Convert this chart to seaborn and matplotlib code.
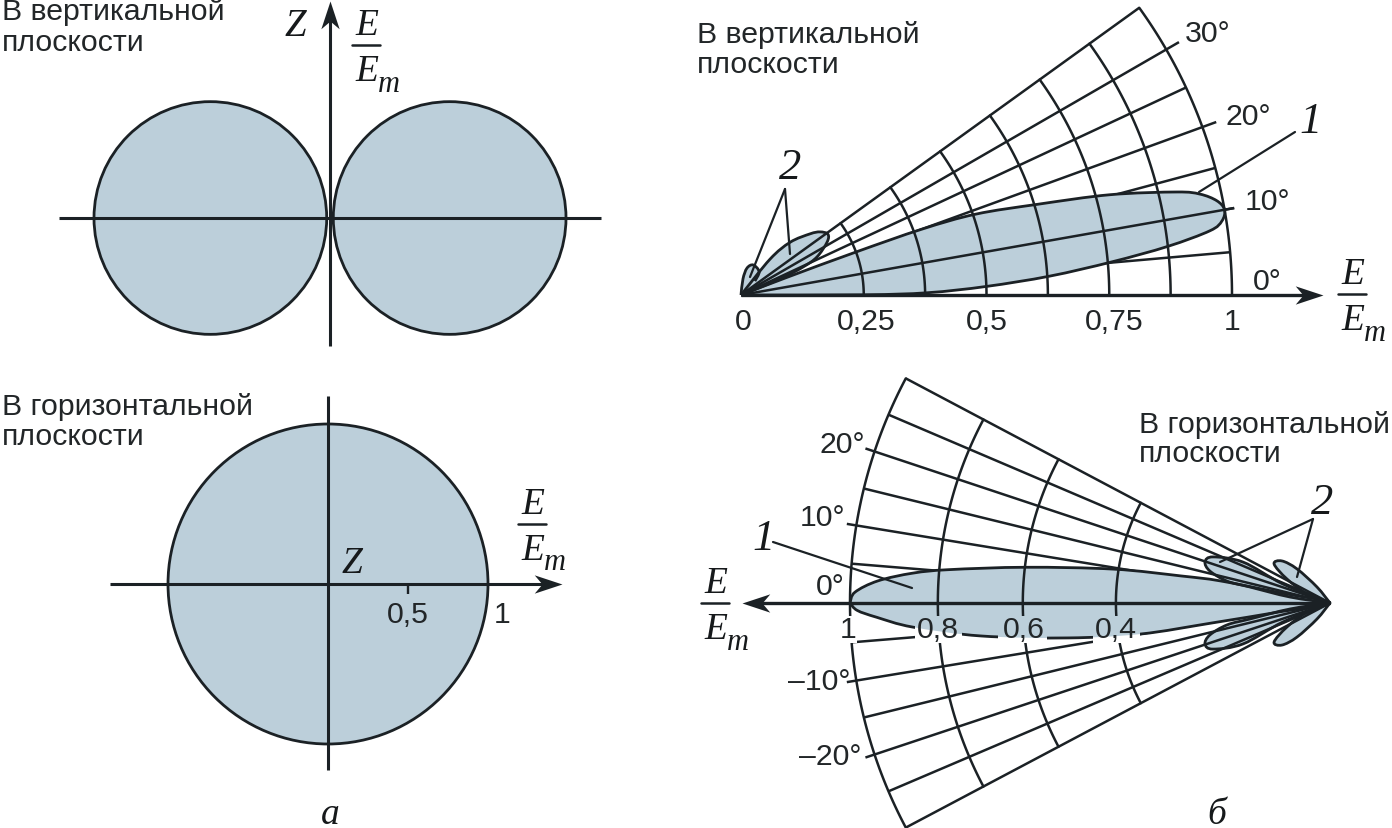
import numpy as np
import pandas as pd
import matplotlib
matplotlib.use("Agg")
import matplotlib.pyplot as plt
from matplotlib.path import Path
from matplotlib.patches import PathPatch, Circle, Rectangle
from matplotlib.transforms import Affine2D
import seaborn as sns

# ---------- data ----------
# a: dipole pattern (circles, in E/Em units)
vertical_circle_centres = [-0.507, 0.507]
vertical_circle_radius = 0.493
horizontal_circle_radius = 1.0

# b, vertical plane
v_ray_deg = [5, 10, 15, 20, 25, 30, 35.8]
v_ray_len = [1.0, 1.02, 1.0, 1.03, 1.0, 1.03, 1.0]
v_arc_E = [0.25, 0.375, 0.5, 0.625, 0.75, 0.875, 1.0]
v_main_deg = [0, 0.1, 0.7, 2.0, 3.5, 5.1, 6.5, 7.8, 8.75, 10, 11.2, 12.4, 13.3, 15.2, 17, 19, 20, 20.5, 21, 0]
v_main_E = [0, 0.25, 0.38, 0.50, 0.63, 0.758, 0.875, 0.964, 0.991, 1.0, 0.988, 0.957, 0.912, 0.779, 0.632, 0.506, 0.392, 0.25, 0.1, 0]
v_lobe1_deg = [22, 22.3, 24.3, 26.6, 31.6, 35, 38.6, 41.5, 47, 51, 55]
v_lobe1_E = [0, 0.086, 0.139, 0.173, 0.206, 0.216, 0.206, 0.188, 0.147, 0.094, 0]
v_lobe2_deg = [45, 52, 68, 77.5, 83, 88]
v_lobe2_E = [0.04, 0.06, 0.066, 0.056, 0.033, 0]

# b, horizontal plane
h_ray_deg = [4.7, 9.3, 13.8, 18.4, 23.1, 27.9]
h_ray_len = [1.0, 1.02, 1.0, 1.02, 1.0, 1.0]
h_arc_E = [0.446, 0.64, 0.817, 1.0]
h_main_deg = [0, 1.3, 2.8, 4.1, 5.0, 6.7, 8.9, 10.3, 11.4, 11.6, 0,
              -10, -9.6, -9.3, -7.6, -5.4, -3.3, -1.8, -0.9, 0]
h_main_E = [1.0, 0.99, 0.943, 0.871, 0.797, 0.638, 0.456, 0.315, 0.232, 0.1, 0,
            0.1, 0.25, 0.40, 0.55, 0.73, 0.871, 0.945, 0.985, 1.0]
h_lobe1_deg = [5, 8.5, 11.3, 12, 14.9, 18.2, 21.5, 25.2, 22, 15]
h_lobe1_E = [0, 0.084, 0.17, 0.219, 0.259, 0.274, 0.262, 0.200, 0.106, 0]
h_lobe2_deg = [10, 21.4, 29.2, 34.9, 41.2, 45.9, 50.9, 50]
h_lobe2_E = [0, 0.051, 0.103, 0.142, 0.133, 0.099, 0.043, 0]

# tick labels
v_tick_labels = ["0", "0,25", "0,5", "0,75", "1"]
h_tick_labels = ["1", "0,8", "0,6", "0,4"]

INK = "#1b2125"
FILL = "#bccfda"
W, H = 1392, 829

sns.set_theme(style="white")
plt.rcParams["font.family"] = ["Liberation Sans", "DejaVu Sans"]

fig = plt.figure(figsize=(W / 100, H / 100), dpi=100, facecolor="white")


def panel(ox, oy, s, flip=False):
    ax = fig.add_axes([0, 0, 1, 1], facecolor="none")
    if flip:
        ax.set_xlim(ox / s, (ox - W) / s)
    else:
        ax.set_xlim(-ox / s, (W - ox) / s)
    ax.set_ylim((oy - H) / s, oy / s)
    ax.axis("off")
    return ax


def polar_xy(deg, e):
    a = np.radians(np.asarray(deg, float))
    e = np.asarray(e, float)
    return e * np.cos(a), e * np.sin(a)


def smooth_path(x, y):
    """Catmull-Rom curve through the read points, as Bezier segments."""
    p = np.column_stack([x, y])
    ext = np.vstack([p[0], p, p[-1]])
    verts, codes = [p[0]], [Path.MOVETO]
    for i in range(1, len(ext) - 2):
        c1 = ext[i] + (ext[i + 1] - ext[i - 1]) / 6
        c2 = ext[i + 1] - (ext[i + 2] - ext[i]) / 6
        verts += [c1, c2, ext[i + 1]]
        codes += [Path.CURVE4] * 3
    return Path(verts, codes)


def lobe(ax, deg, e, z_fill, z_edge, lw=2.0):
    x, y = polar_xy(deg, e)
    path = smooth_path(x, y)
    fill = PathPatch(path, facecolor=FILL, edgecolor="none", zorder=z_fill)
    ax.add_patch(fill)
    if z_edge is not None:
        ax.add_patch(PathPatch(path, facecolor="none", edgecolor=INK, lw=lw, zorder=z_edge))
    return fill


def rays(ax, deg, length, z=2, lw=1.8):
    rows = []
    for d, l in zip(deg, length):
        xs, ys = polar_xy([d, d], [0, l])
        rows += [{"ray": d, "x": xs[k], "y": ys[k], "o": k} for k in range(2)]
    sns.lineplot(data=pd.DataFrame(rows), x="x", y="y", units="ray", estimator=None, sort=False,
                 color=INK, lw=lw, legend=False, ax=ax, zorder=z, solid_capstyle="butt")
    ax.set_xlabel("")
    ax.set_ylabel("")


def arcs(ax, radii, a0, a1, z=5, lw=1.8):
    rows = []
    for r in radii:
        for d in np.linspace(a0, a1, 80):
            x, y = polar_xy(d, r)
            rows.append({"r": r, "x": float(x), "y": float(y)})
    sns.lineplot(data=pd.DataFrame(rows), x="x", y="y", units="r", estimator=None, sort=False,
                 color=INK, lw=lw, legend=False, ax=ax, zorder=z)
    ax.set_xlabel("")
    ax.set_ylabel("")


HEAD = Path([(0, 0), (-1, 0.33), (-0.72, 0), (-1, -0.33), (0, 0)],
            [Path.MOVETO, Path.LINETO, Path.LINETO, Path.LINETO, Path.CLOSEPOLY])


def axis_arrow(ax, start, tip, lw=2.2, z=7):
    """Axis line from start to tip, closed by a concave arrow head."""
    dx, dy = tip[0] - start[0], tip[1] - start[1]
    x_pos = ax.get_xlim()[1] > ax.get_xlim()[0]
    angle = np.degrees(np.arctan2(dy, dx if x_pos else -dx))
    marker = HEAD.transformed(Affine2D().rotate_deg(angle))
    back = 0.97
    ax.plot([start[0], start[0] + dx * back], [start[1], start[1] + dy * back],
            color=INK, lw=lw, zorder=z, solid_capstyle="butt")
    ax.plot([tip[0]], [tip[1]], marker=marker, ms=40, color=INK, mew=0, ls="none", zorder=z + 1)


def seg(ax, x, y, lw=2.2, z=7):
    ax.plot(x, y, color=INK, lw=lw, zorder=z, solid_capstyle="butt")


# ---------- panel a, vertical ----------
a1 = panel(330, 219, 236)
for c in vertical_circle_centres:
    a1.add_patch(Circle((c, 0), vertical_circle_radius, facecolor=FILL, edgecolor=INK, lw=2.0, zorder=2))
seg(a1, [-1.148, 1.148], [0, 0])
axis_arrow(a1, (0, -0.542), (0, 0.92))

# ---------- panel a, horizontal ----------
a2 = panel(328, 585, 160)
a2.add_patch(Circle((0, 0), horizontal_circle_radius, facecolor=FILL, edgecolor=INK, lw=2.0, zorder=2))
axis_arrow(a2, (-1.36, 0), (1.465, 0))
seg(a2, [0, 0], [-1.16, 1.175])
seg(a2, [0.5, 0.5], [0, -0.065], lw=1.7)

# ---------- panel b, vertical ----------
b1 = panel(741, 296, 491)
lobe(b1, v_lobe1_deg, v_lobe1_E, 1, 6)
lobe(b1, v_lobe2_deg, v_lobe2_E, 1, 6)
rays(b1, v_ray_deg, v_ray_len, z=2)
lobe(b1, v_main_deg, v_main_E, 3, 6)
rays(b1, [10], [1.02], z=5)
arcs(b1, v_arc_E, 0, v_ray_deg[-1], z=5)
axis_arrow(b1, (0, 0), (1.185, 0), lw=2.4)

# ---------- panel b, horizontal ----------
b2 = panel(1330, 604, 480, flip=True)
for sign in (1, -1):
    lobe(b2, [sign * d for d in h_lobe1_deg], h_lobe1_E, 1, 6)
    lobe(b2, [sign * d for d in h_lobe2_deg], h_lobe2_E, 1, 6)
    rays(b2, [sign * d for d in h_ray_deg], h_ray_len, z=2)
lobe(b2, h_main_deg, h_main_E, 3, 6)
arcs(b2, h_arc_E, -h_ray_deg[-1], h_ray_deg[-1], z=5)
# gaps cut in the lines round the tick labels; the lobe colour stays behind the digits
for x0, x1 in [(840, 857), (915, 962), (998, 1047), (1093, 1140)]:
    rect = Rectangle(((1330 - x1) / 480, (604 - 644) / 480), (x1 - x0) / 480, (644 - 617) / 480,
                     facecolor="white", edgecolor="none", zorder=6.5)
    b2.add_patch(rect)
    refill = lobe(b2, h_main_deg, h_main_E, 6.6, None)
    refill.set_clip_path(rect)
axis_arrow(b2, (0, 0), (1.225, 0), lw=2.4)

# ---------- texts, in picture coordinates ----------
t = fig.add_axes([0, 0, 1, 1], facecolor="none", zorder=10)
t.set_xlim(0, W)
t.set_ylim(H, 0)
t.axis("off")


def label(x, y, s, size=21.8, ha="left", **kw):
    t.text(x, y + 2, s, fontsize=size, ha=ha, va="center", color="#222628", **kw)


def serif(x, y, s, size=24):
    t.text(x, y + 3, s, fontsize=size, ha="center", va="center", color="#16191b",
           family="Liberation Serif", style="italic")


def fraction(xc, y_bar, half=14):
    serif(xc + 1, y_bar - 23, "E", 27)
    t.plot([xc - half, xc + half], [y_bar, y_bar], color=INK, lw=1.8)
    serif(xc + 1, y_bar + 23, "E", 27)
    serif(xc + 23, y_bar + 35, "m", 22)


VERT = "В вертикальной"
HORI = "В горизонтальной"
PLANE = "плоскости"
label(2, 10, VERT)
label(2, 41, PLANE)
label(2, 405, HORI)
label(2, 435, PLANE)
label(697, 33, VERT)
label(697, 63, PLANE)
label(1139, 423, HORI)
label(1139, 452, PLANE)

serif(295, 23, "Z", 28)
serif(352, 561, "Z", 27)
fraction(366, 46)
fraction(532, 525)
fraction(1352, 295)
fraction(715, 604)

label(408, 613, "0,5", ha="center")
label(502, 613, "1", ha="center")

for x, s in zip([743, 866, 987, 1114, 1232], v_tick_labels):
    label(x, 320, s, ha="center")
for x, y, s in [(1208, 32, "30°"), (1248, 115, "20°"), (1268, 200, "10°"), (1267, 280, "0°")]:
    label(x, y, s, ha="center")
for x, y, s in [(842, 443, "20°"), (823, 516, "10°"), (830, 585, "0°"),
                (819, 680, "–10°"), (830, 755, "–20°")]:
    label(x, y, s, ha="center")
for x, s in zip([848, 938, 1024, 1116], h_tick_labels):
    label(x, 628, s, ha="center")

serif(1311, 119, "1", 32)
serif(790, 165, "2", 32)
serif(764, 536, "1", 32)
serif(1322, 500, "2", 32)
serif(330, 812, "а", 27)
serif(1217, 812, "б", 27)

# pointer lines
for xs, ys in [([785, 750], [190, 278]), ([785, 790], [190, 255]), ([1295, 1199], [133, 193]),
               ([773, 912], [543, 589]), ([1313, 1220], [520, 563]), ([1313, 1297], [520, 578])]:
    t.plot(xs, ys, color=INK, lw=1.6)

fig.savefig("out.png", dpi=100, facecolor="white")
